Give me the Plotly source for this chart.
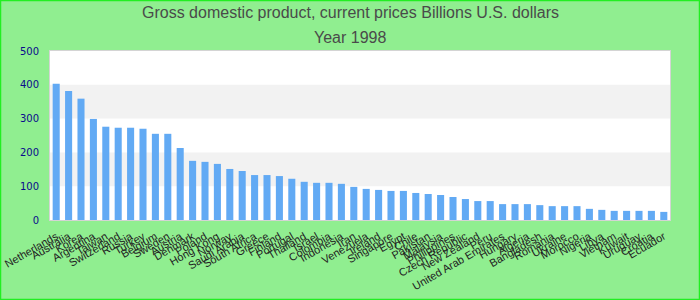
import plotly.graph_objects as go

countries = ["Netherlands", "Australia", "Korea", "Argentina", "Taiwan", "Switzerland", "Russia",
             "Turkey", "Belgium", "Sweden", "Austria", "Denmark", "Poland", "Hong Kong", "Norway",
             "Saudi Arabia", "South Africa", "Greece", "Finland", "Portugal", "Thailand", "Israel",
             "Colombia", "Indonesia", "Iran", "Venezuela", "Ireland", "Singapore", "Egypt", "Chile",
             "Pakistan", "Malaysia", "Philippines", "Czech Republic", "New Zealand", "Peru",
             "United Arab Emirates", "Hungary", "Algeria", "Bangladesh", "Romania", "Ukraine",
             "Morocco", "Nigeria", "Libya", "Vietnam", "Kuwait", "Uruguay", "Croatia", "Ecuador"]
gdp = [403, 382, 359, 299, 276, 273, 273, 270, 255, 255, 213, 175, 172, 166, 151, 145, 133,
       133, 130, 122, 113, 110, 110, 107, 98, 92, 89, 86, 86, 80, 77, 74, 68, 62, 56, 56, 47,
       47, 47, 44, 41, 41, 41, 33, 30, 27, 27, 27, 27, 24]
band_ranges = [(100, 200), (300, 400)]
y_ticks = [0, 100, 200, 300, 400, 500]
title_lines = ["Gross domestic product, current prices Billions U.S. dollars", "Year 1998"]

W, H = 700, 300
ML, MR, MT, MB = 50, 30, 51, 80
pw, ph = W - ML - MR, H - MT - MB

fig = go.Figure(go.Bar(x=countries, y=gdp, marker_color="#62aaf4", marker_line_width=0))

shapes = []
for lo, hi in band_ranges:
    shapes.append(dict(type="rect", xref="paper", yref="y", x0=0, x1=1, y0=lo, y1=hi,
                       fillcolor="#f2f2f2", line_width=0, layer="below"))
shapes.append(dict(type="rect", xref="paper", yref="paper",
                   x0=-ML / pw + 0.5 / pw, x1=1 + (MR - 0.5) / pw,
                   y0=-MB / ph + 0.5 / ph, y1=1 + (MT - 0.5) / ph,
                   line=dict(color="#22ee22", width=1.5), fillcolor="rgba(0,0,0,0)"))

annotations = []
for txt, py in zip(title_lines, [13, 37]):
    annotations.append(dict(text=txt, xref="paper", yref="paper",
                            x=(W / 2 - ML) / pw, y=1 + (MT - py) / ph,
                            xanchor="center", yanchor="middle", showarrow=False,
                            font=dict(family="Liberation Sans, Arial", size=16, color="#4a4a4a")))

fig.update_layout(
    width=W, height=H,
    margin=dict(l=ML, r=MR, t=MT, b=MB, pad=0),
    paper_bgcolor="#90ee90", plot_bgcolor="white",
    shapes=shapes,
    annotations=annotations,
    bargap=0.43,
    showlegend=False,
    xaxis=dict(tickangle=-30, tickmode="linear", dtick=1, ticklabelstandoff=5,
               tickfont=dict(family="Liberation Sans, Arial", size=11, color="#222222"),
               showgrid=False, showline=True, linecolor="#d4d4d4", mirror=True, ticks="",
               automargin=False),
    yaxis=dict(range=[0, 500], tickvals=y_ticks, showgrid=False, zeroline=False,
               showline=True, linecolor="#d4d4d4", mirror=True, ticks="", ticklabelstandoff=8,
               tickfont=dict(family="DejaVu Sans, Verdana", size=10, color="#0a0a8c"),
               automargin=False),
)

fig.write_html("out.html")
